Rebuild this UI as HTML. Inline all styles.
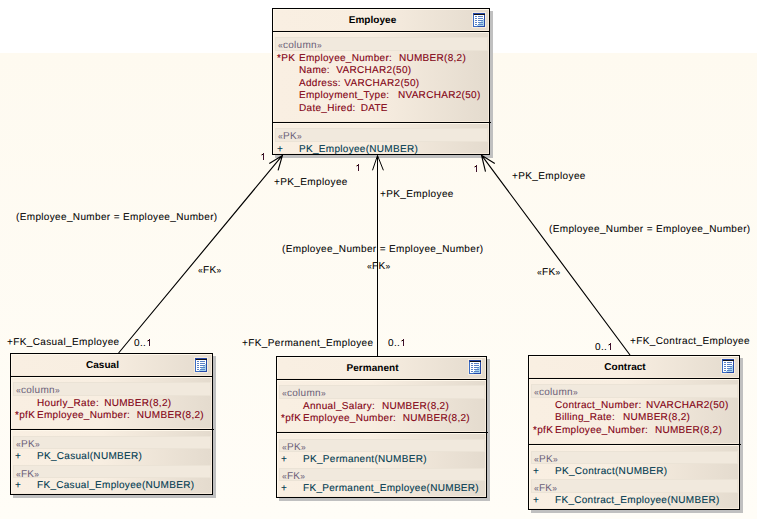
<!DOCTYPE html>
<html><head><meta charset="utf-8"><style>
html,body{margin:0;padding:0}
body{width:757px;height:519px;position:relative;overflow:hidden;background:#fff;font-family:"Liberation Sans",sans-serif}
.bg{position:absolute;left:0;top:53px;width:757px;height:466px;background:linear-gradient(#fefaf0,#fffdf7)}
.box{position:absolute;border:1px solid #000;box-shadow:3px 3px 0 #c0c0c0;background:#f4ebde}
.hdr,.cmp{position:absolute;box-sizing:border-box;border:1px solid;border-color:#fff8eb #f6eadb #f6eadb #fff8eb;background:linear-gradient(to right,#f9efe2 0%,#f8eee1 45%,#e4dbce 100%)}
.sep{position:absolute;height:1px;background:#000}
.band{position:absolute;box-sizing:border-box;border:1px solid #ebe3d6;background:#f1e9dd}
.t{position:absolute;font-size:10px;letter-spacing:0.3px;line-height:12px;white-space:pre;-webkit-text-stroke:0.1px currentColor;text-rendering:geometricPrecision}
.lb{letter-spacing:0.38px;-webkit-text-stroke:0.05px currentColor}
.lbe{letter-spacing:0.35px}
.st{-webkit-text-stroke:0}
.b{font-weight:bold;font-size:10px;letter-spacing:0.05px;-webkit-text-stroke:0}
.ic{position:absolute}
.g{font-size:8.5px;letter-spacing:0.2px;line-height:0}
.icf{position:absolute;width:14px;height:16px;background:#f7ecdd}
.ln{position:absolute;left:0;top:0}
</style></head><body>
<div class="bg"></div>

<div class="box" style="left:272px;top:8px;width:216px;height:145px"></div>
<div class="hdr" style="left:273px;top:9px;width:216px;height:22px"></div>
<div class="cmp" style="left:273px;top:32px;width:216px;height:90px"></div>
<div class="cmp" style="left:273px;top:123px;width:216px;height:31px"></div>
<div class="sep" style="left:272px;top:31px;width:218px"></div>
<div class="sep" style="left:272px;top:122px;width:219px"></div>
<div class="icf" style="left:472px;top:12px"></div>
<svg class="ic" style="left:473px;top:13px" width="12" height="14" viewBox="0 0 12 14" shape-rendering="crispEdges">
<rect x="0" y="0" width="12" height="14" fill="#2448a8"/>
<rect x="1" y="1" width="11" height="1" fill="#101018"/>
<rect x="0" y="2" width="1" height="11" fill="#3a6cc4"/>
<rect x="1" y="2" width="10" height="11" fill="#fff"/>
<polygon points="11,5 11,13 3,13" fill="#a6d2ec"/>
<g fill="#5a82c6"><rect x="2" y="3" width="2" height="1"/><rect x="5" y="3" width="5" height="1"/><rect x="2" y="5" width="2" height="1"/><rect x="5" y="5" width="5" height="1"/><rect x="2" y="7" width="2" height="1"/><rect x="5" y="7" width="5" height="1"/><rect x="2" y="9" width="2" height="1"/><rect x="5" y="9" width="5" height="1"/><rect x="2" y="11" width="2" height="1"/><rect x="5" y="11" width="5" height="1"/></g>
<rect x="0" y="13" width="5" height="1" fill="#3a6cc4"/>
</svg>
<div class="t b" style="left:272px;width:201px;text-align:center;top:15px;color:#000">Employee</div>
<div class="band" style="left:275px;top:37px;width:213px;height:14px"></div>
<div class="t st" style="left:278px;top:40px;color:#6a5e78"><span class="g">«</span>column<span class="g">»</span></div>
<div class="t" style="left:277px;top:53px;color:#820012">*PK</div>
<div class="t" style="left:299px;top:53px;color:#820012">Employee_Number:</div>
<div class="t" style="left:398.9px;top:53px;color:#820012">NUMBER(8,2)</div>
<div class="t" style="left:299px;top:65px;color:#820012">Name:</div>
<div class="t" style="left:336.3px;top:65px;color:#820012">VARCHAR2(50)</div>
<div class="t" style="left:299px;top:78px;color:#820012">Address:</div>
<div class="t" style="left:344.3px;top:78px;color:#820012">VARCHAR2(50)</div>
<div class="t" style="left:299px;top:90px;color:#820012">Employment_Type:</div>
<div class="t" style="left:397.9px;top:90px;color:#820012">NVARCHAR2(50)</div>
<div class="t" style="left:299px;top:103px;color:#820012">Date_Hired:</div>
<div class="t" style="left:360.7px;top:103px;color:#820012">DATE</div>
<div class="band" style="left:275px;top:128px;width:213px;height:14px"></div>
<div class="t st" style="left:278px;top:131px;color:#6a5e78"><span class="g">«</span>PK<span class="g">»</span></div>
<div class="t" style="left:277px;top:144px;color:#003a50">+</div>
<div class="t" style="left:299px;top:144px;color:#003a50">PK_Employee(NUMBER)</div>
<div class="box" style="left:10px;top:353px;width:201px;height:140px"></div>
<div class="hdr" style="left:11px;top:354px;width:201px;height:22px"></div>
<div class="cmp" style="left:11px;top:377px;width:201px;height:52px"></div>
<div class="cmp" style="left:11px;top:430px;width:201px;height:64px"></div>
<div class="sep" style="left:10px;top:376px;width:203px"></div>
<div class="sep" style="left:10px;top:429px;width:204px"></div>
<div class="icf" style="left:194px;top:357px"></div>
<svg class="ic" style="left:195px;top:358px" width="12" height="14" viewBox="0 0 12 14" shape-rendering="crispEdges">
<rect x="0" y="0" width="12" height="14" fill="#2448a8"/>
<rect x="1" y="1" width="11" height="1" fill="#101018"/>
<rect x="0" y="2" width="1" height="11" fill="#3a6cc4"/>
<rect x="1" y="2" width="10" height="11" fill="#fff"/>
<polygon points="11,5 11,13 3,13" fill="#a6d2ec"/>
<g fill="#5a82c6"><rect x="2" y="3" width="2" height="1"/><rect x="5" y="3" width="5" height="1"/><rect x="2" y="5" width="2" height="1"/><rect x="5" y="5" width="5" height="1"/><rect x="2" y="7" width="2" height="1"/><rect x="5" y="7" width="5" height="1"/><rect x="2" y="9" width="2" height="1"/><rect x="5" y="9" width="5" height="1"/><rect x="2" y="11" width="2" height="1"/><rect x="5" y="11" width="5" height="1"/></g>
<rect x="0" y="13" width="5" height="1" fill="#3a6cc4"/>
</svg>
<div class="t b" style="left:10px;width:185px;text-align:center;top:360px;color:#000">Casual</div>
<div class="band" style="left:13px;top:382px;width:198px;height:14px"></div>
<div class="t st" style="left:16px;top:385px;color:#6a5e78"><span class="g">«</span>column<span class="g">»</span></div>
<div class="t" style="left:37px;top:398px;color:#820012">Hourly_Rate:</div>
<div class="t" style="left:104.2px;top:398px;color:#820012">NUMBER(8,2)</div>
<div class="t" style="left:15px;top:410px;color:#820012">*pfK</div>
<div class="t" style="left:37px;top:410px;color:#820012">Employee_Number:</div>
<div class="t" style="left:136.8px;top:410px;color:#820012">NUMBER(8,2)</div>
<div class="band" style="left:13px;top:436px;width:198px;height:13px"></div>
<div class="t st" style="left:16px;top:439px;color:#6a5e78"><span class="g">«</span>PK<span class="g">»</span></div>
<div class="t" style="left:15px;top:451px;color:#003a50">+</div>
<div class="t" style="left:37px;top:451px;color:#003a50">PK_Casual(NUMBER)</div>
<div class="band" style="left:13px;top:465px;width:198px;height:13px"></div>
<div class="t st" style="left:16px;top:469px;color:#6a5e78"><span class="g">«</span>FK<span class="g">»</span></div>
<div class="t" style="left:15px;top:480px;color:#003a50">+</div>
<div class="t" style="left:37px;top:480px;color:#003a50">FK_Casual_Employee(NUMBER)</div>
<div class="box" style="left:276px;top:356px;width:209px;height:140px"></div>
<div class="hdr" style="left:277px;top:357px;width:209px;height:22px"></div>
<div class="cmp" style="left:277px;top:380px;width:209px;height:52px"></div>
<div class="cmp" style="left:277px;top:433px;width:209px;height:64px"></div>
<div class="sep" style="left:276px;top:379px;width:211px"></div>
<div class="sep" style="left:276px;top:432px;width:212px"></div>
<div class="icf" style="left:468px;top:359px"></div>
<svg class="ic" style="left:469px;top:360px" width="12" height="14" viewBox="0 0 12 14" shape-rendering="crispEdges">
<rect x="0" y="0" width="12" height="14" fill="#2448a8"/>
<rect x="1" y="1" width="11" height="1" fill="#101018"/>
<rect x="0" y="2" width="1" height="11" fill="#3a6cc4"/>
<rect x="1" y="2" width="10" height="11" fill="#fff"/>
<polygon points="11,5 11,13 3,13" fill="#a6d2ec"/>
<g fill="#5a82c6"><rect x="2" y="3" width="2" height="1"/><rect x="5" y="3" width="5" height="1"/><rect x="2" y="5" width="2" height="1"/><rect x="5" y="5" width="5" height="1"/><rect x="2" y="7" width="2" height="1"/><rect x="5" y="7" width="5" height="1"/><rect x="2" y="9" width="2" height="1"/><rect x="5" y="9" width="5" height="1"/><rect x="2" y="11" width="2" height="1"/><rect x="5" y="11" width="5" height="1"/></g>
<rect x="0" y="13" width="5" height="1" fill="#3a6cc4"/>
</svg>
<div class="t b" style="left:276px;width:193px;text-align:center;top:363px;color:#000">Permanent</div>
<div class="band" style="left:279px;top:385px;width:206px;height:14px"></div>
<div class="t st" style="left:282px;top:388px;color:#6a5e78"><span class="g">«</span>column<span class="g">»</span></div>
<div class="t" style="left:303px;top:401px;color:#820012">Annual_Salary:</div>
<div class="t" style="left:381.9px;top:401px;color:#820012">NUMBER(8,2)</div>
<div class="t" style="left:281px;top:413px;color:#820012">*pfK</div>
<div class="t" style="left:303px;top:413px;color:#820012">Employee_Number:</div>
<div class="t" style="left:402.8px;top:413px;color:#820012">NUMBER(8,2)</div>
<div class="band" style="left:279px;top:439px;width:206px;height:13px"></div>
<div class="t st" style="left:282px;top:442px;color:#6a5e78"><span class="g">«</span>PK<span class="g">»</span></div>
<div class="t" style="left:281px;top:454px;color:#003a50">+</div>
<div class="t" style="left:303px;top:454px;color:#003a50">PK_Permanent(NUMBER)</div>
<div class="band" style="left:279px;top:468px;width:206px;height:13px"></div>
<div class="t st" style="left:282px;top:471px;color:#6a5e78"><span class="g">«</span>FK<span class="g">»</span></div>
<div class="t" style="left:281px;top:483px;color:#003a50">+</div>
<div class="t" style="left:303px;top:483px;color:#003a50">FK_Permanent_Employee(NUMBER)</div>
<div class="box" style="left:528px;top:355px;width:210px;height:153px"></div>
<div class="hdr" style="left:529px;top:356px;width:210px;height:22px"></div>
<div class="cmp" style="left:529px;top:379px;width:210px;height:65px"></div>
<div class="cmp" style="left:529px;top:445px;width:210px;height:64px"></div>
<div class="sep" style="left:528px;top:378px;width:212px"></div>
<div class="sep" style="left:528px;top:444px;width:213px"></div>
<div class="icf" style="left:721px;top:358px"></div>
<svg class="ic" style="left:722px;top:359px" width="12" height="14" viewBox="0 0 12 14" shape-rendering="crispEdges">
<rect x="0" y="0" width="12" height="14" fill="#2448a8"/>
<rect x="1" y="1" width="11" height="1" fill="#101018"/>
<rect x="0" y="2" width="1" height="11" fill="#3a6cc4"/>
<rect x="1" y="2" width="10" height="11" fill="#fff"/>
<polygon points="11,5 11,13 3,13" fill="#a6d2ec"/>
<g fill="#5a82c6"><rect x="2" y="3" width="2" height="1"/><rect x="5" y="3" width="5" height="1"/><rect x="2" y="5" width="2" height="1"/><rect x="5" y="5" width="5" height="1"/><rect x="2" y="7" width="2" height="1"/><rect x="5" y="7" width="5" height="1"/><rect x="2" y="9" width="2" height="1"/><rect x="5" y="9" width="5" height="1"/><rect x="2" y="11" width="2" height="1"/><rect x="5" y="11" width="5" height="1"/></g>
<rect x="0" y="13" width="5" height="1" fill="#3a6cc4"/>
</svg>
<div class="t b" style="left:528px;width:194px;text-align:center;top:362px;color:#000">Contract</div>
<div class="band" style="left:531px;top:384px;width:207px;height:14px"></div>
<div class="t st" style="left:534px;top:387px;color:#6a5e78"><span class="g">«</span>column<span class="g">»</span></div>
<div class="t" style="left:555px;top:400px;color:#820012">Contract_Number:</div>
<div class="t" style="left:645.9px;top:400px;color:#820012">NVARCHAR2(50)</div>
<div class="t" style="left:555px;top:412px;color:#820012">Billing_Rate:</div>
<div class="t" style="left:623.0px;top:412px;color:#820012">NUMBER(8,2)</div>
<div class="t" style="left:533px;top:425px;color:#820012">*pfK</div>
<div class="t" style="left:555px;top:425px;color:#820012">Employee_Number:</div>
<div class="t" style="left:654.9px;top:425px;color:#820012">NUMBER(8,2)</div>
<div class="band" style="left:531px;top:451px;width:207px;height:13px"></div>
<div class="t st" style="left:534px;top:454px;color:#6a5e78"><span class="g">«</span>PK<span class="g">»</span></div>
<div class="t" style="left:533px;top:466px;color:#003a50">+</div>
<div class="t" style="left:555px;top:466px;color:#003a50">PK_Contract(NUMBER)</div>
<div class="band" style="left:531px;top:479px;width:207px;height:14px"></div>
<div class="t st" style="left:534px;top:483px;color:#6a5e78"><span class="g">«</span>FK<span class="g">»</span></div>
<div class="t" style="left:533px;top:495px;color:#003a50">+</div>
<div class="t" style="left:555px;top:495px;color:#003a50">FK_Contract_Employee(NUMBER)</div>
<div class="t lb" style="left:274px;top:177px;color:#000">+PK_Employee</div>
<div class="t lb lbe" style="left:16px;top:212px;color:#000">(Employee_Number = Employee_Number)</div>
<div class="t lb" style="left:198px;top:265px;color:#000"><span class="g">«</span>FK<span class="g">»</span></div>
<div class="t lb" style="left:7px;top:337px;color:#000">+FK_Casual_Employee</div>
<div class="t lb" style="left:380px;top:189px;color:#000">+PK_Employee</div>
<div class="t lb lbe" style="left:282px;top:244px;color:#000">(Employee_Number = Employee_Number)</div>
<div class="t lb" style="left:367px;top:261px;color:#000"><span class="g">«</span>FK<span class="g">»</span></div>
<div class="t lb" style="left:242px;top:338px;color:#000">+FK_Permanent_Employee</div>
<div class="t lb" style="left:512px;top:171px;color:#000">+PK_Employee</div>
<div class="t lb lbe" style="left:549px;top:224px;color:#000">(Employee_Number = Employee_Number)</div>
<div class="t lb" style="left:537px;top:267px;color:#000"><span class="g">«</span>FK<span class="g">»</span></div>
<div class="t lb" style="left:630px;top:336px;color:#000">+FK_Contract_Employee</div>
<div class="t lb" style="left:134px;top:338px;color:#000">0..</div>
<div class="t lb" style="left:388px;top:338px;color:#000">0..</div>
<div class="t lb" style="left:595px;top:342px;color:#000">0..</div>
<svg class="ln" width="757" height="519" viewBox="0 0 757 519">
<g stroke="#000" stroke-width="1" fill="none">
<path stroke-width="1.15" d="M118.6 353 L282.4 155.4 M269.3 163.5 L282.4 155.4 L278.1 170.4"/>
<path d="M377.5 356 L377.5 155.5 M372.5 170.3 L377.5 155.5 L383.4 170.3"/>
<path stroke-width="1.15" d="M630 355 L481.5 155.2 M494.8 163.6 L481.5 155.2 L485.5 171.7"/>
</g><rect x="263" y="153" width="1" height="7" fill="#40102c"/><rect x="262" y="154" width="1" height="1" fill="#000"/><rect x="261" y="154" width="1" height="1" fill="#d8a070" opacity="0.8"/><rect x="261" y="155" width="1" height="1" fill="#9090c0" opacity="0.6"/><rect x="358" y="164" width="1" height="7" fill="#40102c"/><rect x="357" y="165" width="1" height="1" fill="#000"/><rect x="356" y="165" width="1" height="1" fill="#d8a070" opacity="0.8"/><rect x="356" y="166" width="1" height="1" fill="#9090c0" opacity="0.6"/><rect x="476" y="165" width="1" height="7" fill="#40102c"/><rect x="475" y="166" width="1" height="1" fill="#000"/><rect x="474" y="166" width="1" height="1" fill="#d8a070" opacity="0.8"/><rect x="474" y="167" width="1" height="1" fill="#9090c0" opacity="0.6"/><rect x="149" y="339" width="1" height="7" fill="#40102c"/><rect x="148" y="340" width="1" height="1" fill="#000"/><rect x="147" y="340" width="1" height="1" fill="#d8a070" opacity="0.8"/><rect x="147" y="341" width="1" height="1" fill="#9090c0" opacity="0.6"/><rect x="403" y="339" width="1" height="7" fill="#40102c"/><rect x="402" y="340" width="1" height="1" fill="#000"/><rect x="401" y="340" width="1" height="1" fill="#d8a070" opacity="0.8"/><rect x="401" y="341" width="1" height="1" fill="#9090c0" opacity="0.6"/><rect x="610" y="343" width="1" height="7" fill="#40102c"/><rect x="609" y="344" width="1" height="1" fill="#000"/><rect x="608" y="344" width="1" height="1" fill="#d8a070" opacity="0.8"/><rect x="608" y="345" width="1" height="1" fill="#9090c0" opacity="0.6"/></svg>
</body></html>
